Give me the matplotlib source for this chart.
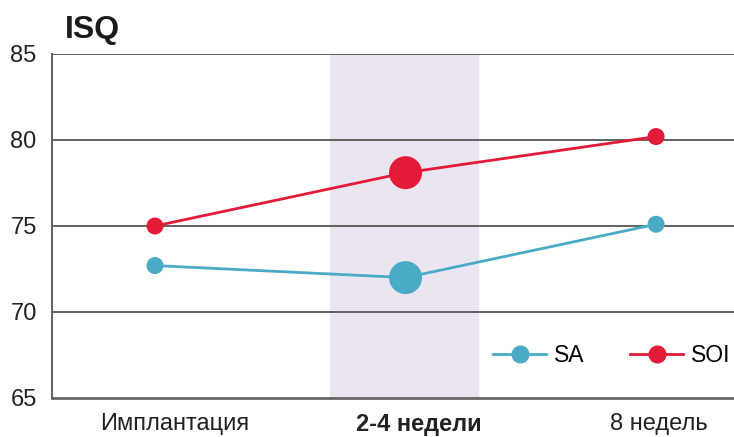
import matplotlib.pyplot as plt
from matplotlib.lines import Line2D
from matplotlib.transforms import offset_copy

plt.rcParams['font.family'] = ['Liberation Sans', 'DejaVu Sans']

CATEGORIES = ["Имплантация", "2-4 недели", "8 недель"]
SA = [72.7, 72.0, 75.1]
SOI = [75.0, 78.1, 80.2]
Y_TICKS = [65, 70, 75, 80, 85]

SA_COLOR = "#4aabc6"
SOI_COLOR = "#e31b38"
GRID_COLOR = "#555555"


def main():
    fig = plt.figure(figsize=(7.34, 4.37), dpi=100)
    ax = fig.add_axes([52 / 734, 39 / 437, 682 / 734, 344 / 437])

    x = list(range(len(CATEGORIES)))
    ax.axvspan(0.70, 1.29, color="#ebe5f2", zorder=0)

    sizes = [17, 33, 17]
    for values, color, label in [(SA, SA_COLOR, "SA"), (SOI, SOI_COLOR, "SOI")]:
        ax.plot(x, values, color=color, lw=2, zorder=3)
        ax.scatter(x, values, s=[(d * 0.72) ** 2 for d in sizes], color=color,
                   zorder=4, linewidths=0)

    ax.set_xlim(-0.411, 2.311)
    ax.set_ylim(65, 85)
    ax.set_yticks(Y_TICKS)
    ax.set_yticklabels([str(v) for v in Y_TICKS], fontsize=17, color="#222222")
    ax.set_xticks(x)
    ax.set_xticklabels(CATEGORIES, fontsize=17, color="#222222")
    ax.get_xticklabels()[1].set_fontweight("bold")
    ax.tick_params(axis="both", length=0)
    ax.tick_params(axis="y", pad=11)
    ax.tick_params(axis="x", pad=11)

    # labels in the reference sit a little right of the points
    shifts = [20, 13, 3]
    for lbl, dx in zip(ax.get_xticklabels(), shifts):
        lbl.set_transform(offset_copy(lbl.get_transform(), fig=fig, x=dx, y=0, units="dots"))

    for v in Y_TICKS[1:]:
        ax.axhline(v, color=GRID_COLOR, lw=1.3, zorder=1)

    for side in ["top", "right"]:
        ax.spines[side].set_visible(False)
    ax.spines["left"].set_color("#666666")
    ax.spines["left"].set_linewidth(1.5)
    ax.spines["bottom"].set_color("#666666")
    ax.spines["bottom"].set_linewidth(2)

    fig.text(65 / 734, 1 - 30 / 437, "ISQ", fontsize=23, fontweight="bold",
             va="center", ha="left", color="#1a1a1a")

    handles = [
        Line2D([0], [0], color=SA_COLOR, lw=2, marker="o", markersize=12),
        Line2D([0], [0], color=SOI_COLOR, lw=2, marker="o", markersize=12),
    ]
    ax.legend(handles, ["SA", "SOI"], loc="lower right", ncol=2, frameon=False,
              fontsize=16.5, handlelength=2.3, columnspacing=2.0, handletextpad=0.35,
              bbox_to_anchor=(1.015, 0.05), borderaxespad=0.2)

    fig.savefig("out.png", dpi=100)


if __name__ == '__main__':
    main()
